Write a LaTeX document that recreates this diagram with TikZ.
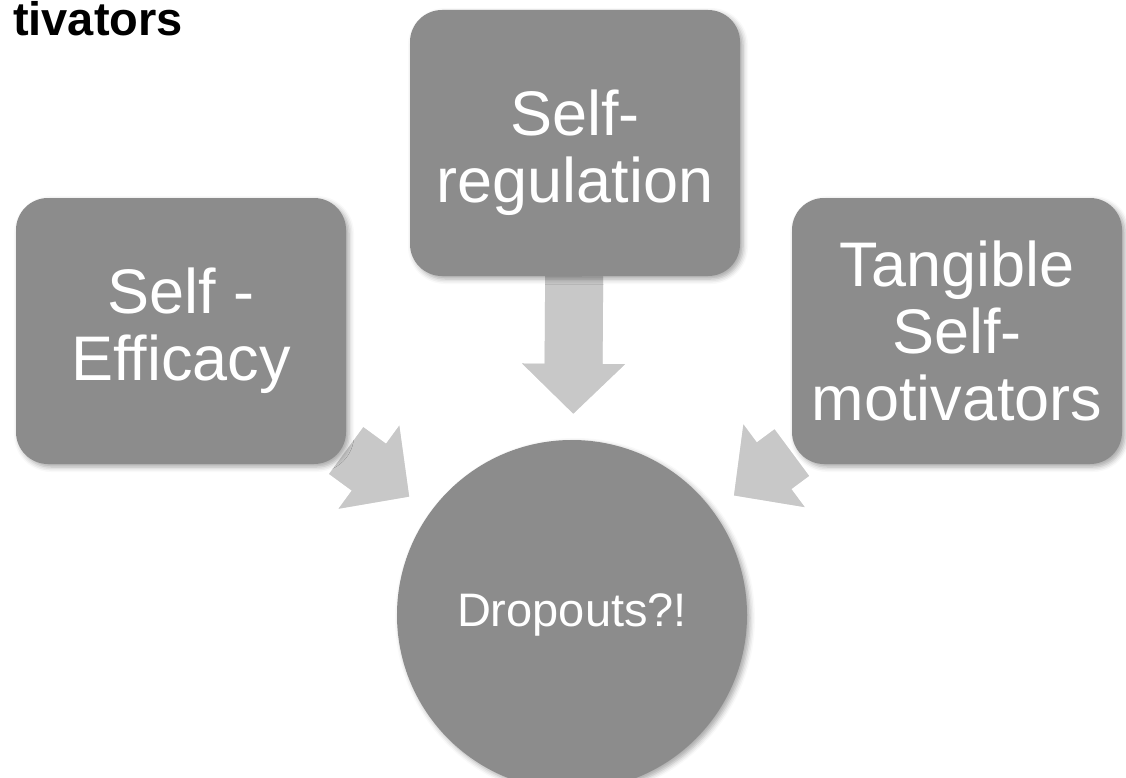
\documentclass[tikz,border=0pt]{standalone}
\usepackage{fontspec}
\setmainfont{Liberation Sans}
\usetikzlibrary{arrows.meta,backgrounds,shadows.blur}
\definecolor{boxgray}{RGB}{140,140,140}
\definecolor{arrowgray}{RGB}{200,200,200}
\definecolor{shadegray}{RGB}{226,226,226}
\begin{document}
\begin{tikzpicture}[x=1pt, y=-1pt,
  every node/.style={text=white, align=center, inner sep=0pt},
  softshadow/.style={blur shadow={shadow xshift=3pt, shadow yshift=-3pt, shadow blur radius=5pt, shadow opacity=35}},
  box/.style={fill=boxgray, rounded corners=32pt, minimum width=330pt, minimum height=266pt,
    font={\fontsize{63}{67}\selectfont}, softshadow},
  hub/.style={circle, fill=boxgray, minimum size=350pt, font={\fontsize{47}{52}\selectfont}, softshadow},
  flow/.style={draw=arrowgray, line width=58pt, shorten >=26pt, -{Triangle[length=50pt, width=100pt]}},
  flowshade/.style={flow, draw=shadegray, shift={(3,3)}}]
\useasboundingbox (0,0) rectangle (1126,778);
\node[anchor=base east, text=black, font={\bfseries\fontsize{47}{52}\selectfont}] (title) at (183,36) {tivators};
\node[box] (selfeff) at (181,331) {Self -\\Efficacy};
\node[box] (selfreg) at (575,143) {\rule{0pt}{66pt}Self-\\regulation};
\node[box] (tangible) at (957,331) {Tangible\\Self-\\motivators};
\node[hub] (drop) at (572,615) {Dropouts?!};
\begin{scope}[on background layer]
\foreach \src in {selfeff,selfreg,tangible}
  \draw[flowshade] (\src) -- (drop);
\foreach \src in {selfeff,selfreg,tangible}
  \draw[flow] (\src) -- (drop);
\end{scope}
\end{tikzpicture}
\end{document}
